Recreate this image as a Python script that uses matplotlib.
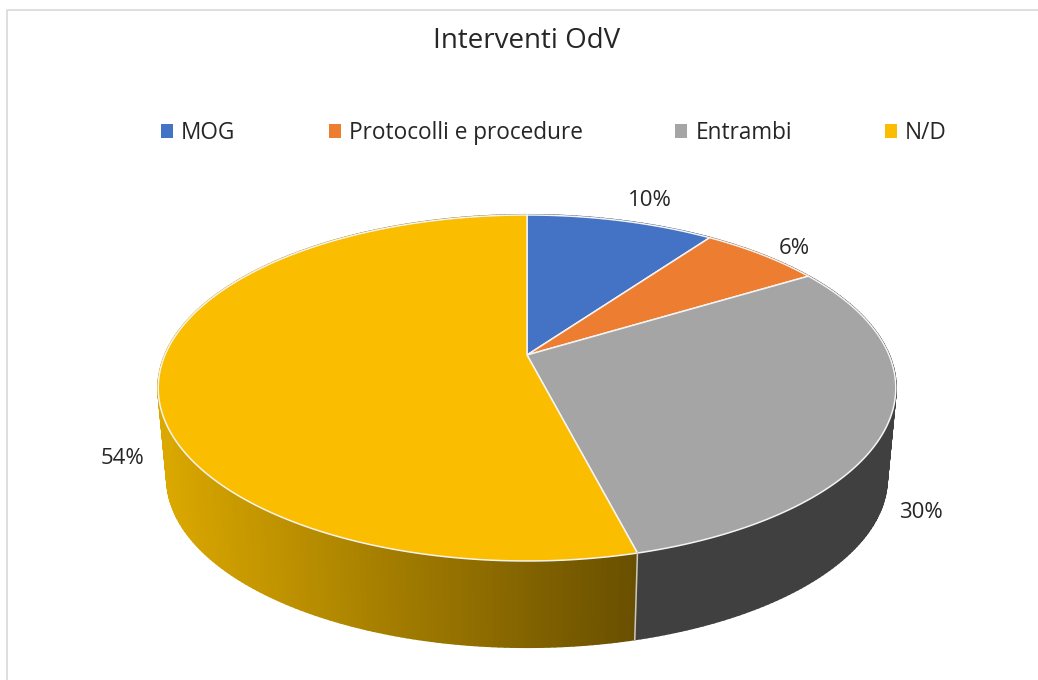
import matplotlib
matplotlib.use("Agg")
import matplotlib.pyplot as plt
import numpy as np
from matplotlib.collections import PolyCollection
from matplotlib.patches import Patch, Polygon

plt.rcParams['font.family'] = ['Open Sans', 'DejaVu Sans']

title = "Interventi OdV"
categories = ["MOG", "Protocolli e procedure", "Entrambi", "N/D"]
values = [9.9, 6.4, 29.7, 54]
labels = ["10%", "6%", "30%", "54%"]
top_colors = ["#4472c4", "#ed7d31", "#a5a5a5", "#fbbd00"]
label_xy = [(650, 201), (794, 249), (921, 513), (123, 459)]

# side shade at left and right end of the pie, per slice
side_left = [(0.16, 0.27, 0.48), (0.55, 0.28, 0.10), (0.29, 0.29, 0.29), (0.86, 0.66, 0.0)]
side_right = [(0.16, 0.27, 0.48), (0.55, 0.28, 0.10), (0.25, 0.25, 0.25), (0.41, 0.31, 0.0)]

# projection of the pie disc, in pixels
cx, cy = 527, 355
ax_r, by_r, persp = 362, 166.7, 0.1907
shrink, depth = 0.976, 91.0
xmin, xmax = 160, 895


def project(theta, lower=False):
    sx = np.cos(theta)
    sy = np.sin(theta)
    px = ax_r * sx / (1 + persp * sy)
    py = -by_r * sy / (1 + persp * sy)
    if lower:
        return cx + shrink * px, cy + depth + shrink * py
    return cx + px, cy + py


fig = plt.figure(figsize=(10.38, 6.8), dpi=100)
ax = fig.add_axes([0, 0, 1, 1])
ax.set_xlim(0, 1038)
ax.set_ylim(680, 0)
ax.axis("off")

# chart frame, only top and left show in the screenshot
ax.plot([1038, 6.5, 6.5], [9.5, 9.5, 680], color="#d9d9d9", lw=1.2)

fractions = np.cumsum([0] + values) / sum(values)
starts = np.pi / 2 - 2 * np.pi * fractions[:-1]
ends = np.pi / 2 - 2 * np.pi * fractions[1:]

# side wall first, the top faces cover whatever is behind them
for i in range(len(values)):
    n = max(int(abs(ends[i] - starts[i]) * 70), 2)
    th = np.linspace(starts[i], ends[i], n)
    x_top, y_top = project(th)
    x_low, y_low = project(th, lower=True)
    quads = []
    shades = []
    for j in range(n - 1):
        quads.append([(x_top[j], y_top[j]), (x_top[j + 1], y_top[j + 1]),
                      (x_low[j + 1], y_low[j + 1]), (x_low[j], y_low[j])])
        t = np.clip((x_top[j] - xmin) / (640 - xmin), 0, 1)
        shades.append(tuple((1 - t) * a + t * b for a, b in zip(side_left[i], side_right[i])))
    ax.add_collection(PolyCollection(quads, facecolors=shades, edgecolors=shades, linewidths=1.5))

# seam on the front wall between Entrambi and N/D
seam_top = project(ends[2])
seam_low = project(ends[2], lower=True)
ax.plot([seam_top[0], seam_low[0]], [seam_top[1], seam_low[1]], color="#c8c8c8", lw=1.1)

for i in range(len(values)):
    n = max(int(abs(ends[i] - starts[i]) * 120), 2)
    th = np.linspace(starts[i], ends[i], n)
    x_top, y_top = project(th)
    pts = [(cx, cy)] + list(zip(x_top, y_top))
    ax.add_patch(Polygon(pts, closed=True, facecolor=top_colors[i], edgecolor="#f4f4f4", lw=1.1, joinstyle="round"))

for txt, (lx, ly) in zip(labels, label_xy):
    ax.text(lx, ly, txt, ha="center", va="center", fontsize=16, color="#262626")

ax.text(527, 41, title, ha="center", va="center", fontsize=20, color="#262626")

handles = [Patch(facecolor=c, edgecolor="none") for c in top_colors]
fs = 16.3
px = fs * 100 / 72
ax.legend(handles, categories, ncol=4, loc="center", bbox_to_anchor=(554 / 1038, 1 - 133 / 680),
          bbox_transform=ax.transAxes, frameon=False, fontsize=fs, labelcolor="#262626",
          handlelength=12 / px, handleheight=12 / px, handletextpad=8 / px,
          columnspacing=93 / px, borderpad=0, borderaxespad=0)

fig.savefig("out.png", dpi=100, facecolor="white")
